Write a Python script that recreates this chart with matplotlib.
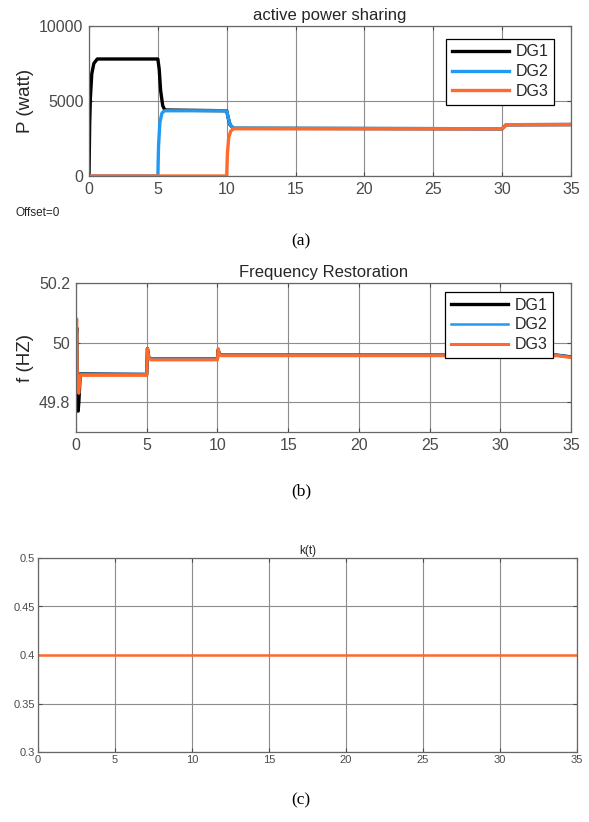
import matplotlib
matplotlib.use("Agg")
import matplotlib.pyplot as plt

plt.rcParams['font.family'] = ['Liberation Sans', 'DejaVu Sans']

# ---- (a) active power sharing ----
t_dg1 = [0, 0.05, 0.1, 0.2, 0.35, 0.6, 5.0, 5.1, 5.2, 5.35, 5.5, 10.0, 10.1, 10.25, 10.5, 30.0, 30.3, 35]
p_dg1 = [0, 3500, 5200, 6800, 7500, 7800, 7800, 7100, 5700, 4700, 4400, 4350, 3900, 3400, 3180, 3150, 3420, 3430]
t_dg2 = [0, 5.0, 5.05, 5.15, 5.3, 5.5, 10.0, 10.1, 10.25, 10.5, 30.0, 30.3, 35]
p_dg2 = [0, 0, 2000, 3600, 4200, 4350, 4350, 3900, 3400, 3180, 3150, 3420, 3430]
t_dg3 = [0, 10.0, 10.05, 10.15, 10.3, 10.5, 30.0, 30.3, 35]
p_dg3 = [0, 0, 1500, 2600, 3000, 3150, 3150, 3420, 3430]

# ---- (b) frequency restoration ----
tf_dg1 = [0, 0.05, 0.1, 0.15, 0.2, 0.3, 5.0, 5.05, 5.15, 5.3, 10.0, 10.05, 10.15, 10.3, 34.0, 35]
f_dg1 = [50.0, 50.05, 49.85, 49.77, 49.80, 49.895, 49.893, 49.98, 49.95, 49.945, 49.945, 49.975, 49.962, 49.958, 49.958, 49.952]
tf_dg2 = [0, 0.05, 0.1, 0.2, 0.3, 5.0, 5.05, 5.15, 5.3, 10.0, 10.05, 10.15, 10.3, 34.0, 35]
f_dg2 = [50.0, 50.06, 49.86, 49.83, 49.895, 49.895, 49.98, 49.95, 49.946, 49.946, 49.975, 49.962, 49.959, 49.959, 49.952]
tf_dg3 = [0, 0.05, 0.1, 0.2, 0.3, 5.0, 5.05, 5.15, 5.3, 10.0, 10.05, 10.15, 10.3, 34.0, 35]
f_dg3 = [50.0, 50.08, 49.86, 49.83, 49.89, 49.89, 49.98, 49.95, 49.942, 49.942, 49.98, 49.96, 49.956, 49.956, 49.95]

# ---- (c) k(t) ----
t_k = [0, 35]
k_val = [0.4, 0.4]

black = '#000000'
blue = '#2299f2'
orange = '#ff6a2a'
gray = '#4a4a4a'

fig = plt.figure(figsize=(5.89, 8.22), dpi=100)


def style(ax, size):
    ax.tick_params(direction='in', top=True, right=True, labelsize=size,
                   colors=gray, length=3, width=0.8, pad=4)
    for s in ax.spines.values():
        s.set_color('#666666')
        s.set_linewidth(0.9)
    ax.grid(True, color='#8c8c8c', linewidth=0.8)
    ax.set_axisbelow(True)


# panel (a)
ax1 = fig.add_axes([89/589, 1-176/822, 482/589, 150/822])
ax1.plot(t_dg1, p_dg1, color=black, lw=2.4, label='DG1')
ax1.plot(t_dg2, p_dg2, color=blue, lw=2.4, label='DG2')
ax1.plot(t_dg3, p_dg3, color=orange, lw=2.4, label='DG3')
ax1.set_xlim(0, 35)
ax1.set_ylim(0, 10000)
ax1.set_xticks(range(0, 36, 5))
ax1.set_yticks([0, 5000, 10000])
style(ax1, 11.5)
ax1.set_title('active power sharing', fontsize=12, color='#262626', pad=4)
ax1.set_ylabel('P (watt)', fontsize=13.5, color='#262626', labelpad=4)
leg = ax1.legend(loc='upper right', bbox_to_anchor=(0.965, 0.915), fontsize=11.5,
                 fancybox=False, edgecolor='black', framealpha=1,
                 handlelength=3.6, borderpad=0.35, labelspacing=0.3,
                 handletextpad=0.4, borderaxespad=0)
leg.get_frame().set_linewidth(0.9)
for txt in leg.get_texts():
    txt.set_color('#262626')

# panel (b)
ax2 = fig.add_axes([76/589, 1-432/822, 495/589, 149/822])
ax2.plot(tf_dg1, f_dg1, color=black, lw=2.4, label='DG1')
ax2.plot(tf_dg2, f_dg2, color=blue, lw=1.8, label='DG2')
ax2.plot(tf_dg3, f_dg3, color=orange, lw=2.2, label='DG3')
ax2.set_xlim(0, 35)
ax2.set_ylim(49.7, 50.2)
ax2.set_xticks(range(0, 36, 5))
ax2.set_yticks([49.8, 50.0, 50.2])
ax2.set_yticklabels(['49.8', '50', '50.2'])
style(ax2, 11.5)
ax2.set_title('Frequency Restoration', fontsize=12, color='#262626', pad=4)
ax2.set_ylabel('f (HZ)', fontsize=13.5, color='#262626', labelpad=4)
leg2 = ax2.legend(loc='upper right', bbox_to_anchor=(0.964, 0.94), fontsize=11.5,
                  fancybox=False, edgecolor='black', framealpha=1,
                  handlelength=3.6, borderpad=0.35, labelspacing=0.3,
                  handletextpad=0.4, borderaxespad=0)
leg2.get_frame().set_linewidth(0.9)
for txt in leg2.get_texts():
    txt.set_color('#262626')

# panel (c)
ax3 = fig.add_axes([38/589, 1-752/822, 539/589, 194/822])
ax3.plot(t_k, k_val, color=orange, lw=1.8)
ax3.set_xlim(0, 35)
ax3.set_ylim(0.3, 0.5)
ax3.set_xticks(range(0, 36, 5))
ax3.set_yticks([0.3, 0.35, 0.4, 0.45, 0.5])
ax3.set_yticklabels(['0.3', '0.35', '0.4', '0.45', '0.5'])
style(ax3, 8)
ax3.tick_params(pad=2)
ax3.set_title('k(t)', fontsize=8.5, color='#262626', pad=3)

# captions
fig.text(15/589, 1-213/822, 'Offset=0', fontsize=8.5, color='#262626', va='center', ha='left')
for y, lab in [(241, '(a)'), (491, '(b)'), (800, '(c)')]:
    fig.text(301/589, 1-y/822, lab, fontsize=12.5, family='Liberation Serif',
             ha='center', va='center')

fig.savefig('out.png', dpi=100)
